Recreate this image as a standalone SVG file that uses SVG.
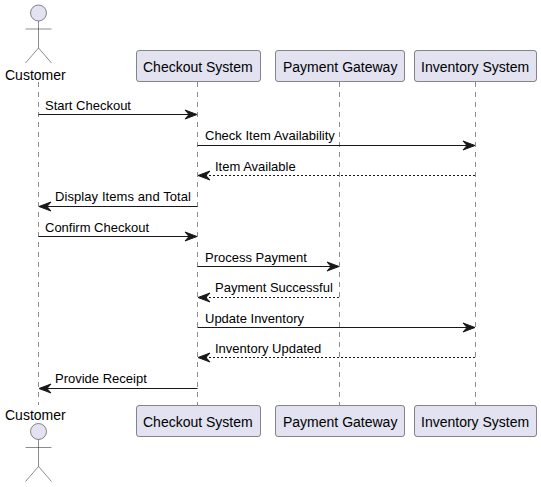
<svg xmlns="http://www.w3.org/2000/svg" width="541" height="487" viewBox="0 0 541 487">
<style>
text{font-family:"Liberation Sans",Arial,sans-serif;fill:#000}
.t{font-size:14px}
.m{font-size:13px}
.life{stroke:#181818;stroke-width:.5;stroke-dasharray:5 5;fill:none}
.box{fill:#E2E2F0;stroke:#181818;stroke-width:.5}
.act{stroke:#181818;stroke-width:.5;fill:none}
.head{fill:#E2E2F0;stroke:#181818;stroke-width:.5}
.msg{stroke:#181818;stroke-width:1;fill:none}
.dash{stroke-dasharray:2 2}
</style>
<defs>
<path id="ar" d="M0 0L-12 -4.5L-8 0L-12 4.5Z" fill="#181818" stroke="#181818" stroke-width="1"/>
<path id="al" d="M0 0L12 -4.5L8 0L12 4.5Z" fill="#181818" stroke="#181818" stroke-width="1"/>
</defs>
<g id="lifelines">
<line class="life" x1="38.5" y1="82" x2="38.5" y2="405"/>
<line class="life" x1="197.5" y1="82" x2="197.5" y2="405"/>
<line class="life" x1="339.5" y1="82" x2="339.5" y2="405"/>
<line class="life" x1="475.5" y1="82" x2="475.5" y2="405"/>
</g>
<g id="connectors">
<line class="msg" x1="38.5" y1="114.5" x2="190" y2="114.5"/><use href="#ar" x="197" y="114.5"/>
<line class="msg" x1="197.5" y1="145.5" x2="468" y2="145.5"/><use href="#ar" x="475" y="145.5"/>
<line class="msg dash" x1="205" y1="175.5" x2="475.5" y2="175.5"/><use href="#al" x="198" y="175.5"/>
<line class="msg" x1="46" y1="206.5" x2="197.5" y2="206.5"/><use href="#al" x="39" y="206.5"/>
<line class="msg" x1="38.5" y1="236.5" x2="190" y2="236.5"/><use href="#ar" x="197" y="236.5"/>
<line class="msg" x1="197.5" y1="266.5" x2="332" y2="266.5"/><use href="#ar" x="339" y="266.5"/>
<line class="msg dash" x1="205" y1="297.5" x2="339.5" y2="297.5"/><use href="#al" x="198" y="297.5"/>
<line class="msg" x1="197.5" y1="327.5" x2="468" y2="327.5"/><use href="#ar" x="475" y="327.5"/>
<line class="msg dash" x1="205" y1="357.5" x2="475.5" y2="357.5"/><use href="#al" x="198" y="357.5"/>
<line class="msg" x1="46" y1="388.5" x2="197.5" y2="388.5"/><use href="#al" x="39" y="388.5"/>
</g>
<g id="labels">
<text class="m" x="45" y="110">Start Checkout</text>
<text class="m" x="205" y="140">Check Item Availability</text>
<text class="m" x="215" y="171">Item Available</text>
<text class="m" x="55" y="201" textLength="136">Display Items and Total</text>
<text class="m" x="45" y="232">Confirm Checkout</text>
<text class="m" x="205" y="262">Process Payment</text>
<text class="m" x="215" y="292">Payment Successful</text>
<text class="m" x="205" y="323">Update Inventory</text>
<text class="m" x="215" y="353">Inventory Updated</text>
<text class="m" x="55" y="383">Provide Receipt</text>
</g>
<g id="customer-top">
<circle class="head" cx="38.5" cy="13" r="8"/>
<path class="act" d="M38.5 21V48M25.5 29H51.5M38.5 48L25.5 63M38.5 48L51.5 63"/>
<text class="t" x="5" y="80">Customer</text>
</g>
<g id="customer-bottom">
<text class="t" x="5" y="420">Customer</text>
<circle class="head" cx="38.5" cy="431.5" r="8"/>
<path class="act" d="M38.5 439.5V466.5M25.5 447.5H51.5M38.5 466.5L25.5 481.5M38.5 466.5L51.5 481.5"/>
</g>
<g id="checkout-top"><rect class="box" x="136.5" y="50.5" width="124" height="31" rx="2.5"/><text class="t" x="143" y="72">Checkout System</text></g>
<g id="payment-top"><rect class="box" x="275.5" y="50.5" width="129" height="31" rx="2.5"/><text class="t" x="283" y="72">Payment Gateway</text></g>
<g id="inventory-top"><rect class="box" x="414.5" y="50.5" width="122" height="31" rx="2.5"/><text class="t" x="421" y="72">Inventory System</text></g>
<g id="checkout-bottom"><rect class="box" x="136.5" y="405.5" width="124" height="31" rx="2.5"/><text class="t" x="143" y="427">Checkout System</text></g>
<g id="payment-bottom"><rect class="box" x="275.5" y="405.5" width="129" height="31" rx="2.5"/><text class="t" x="283" y="427">Payment Gateway</text></g>
<g id="inventory-bottom"><rect class="box" x="414.5" y="405.5" width="122" height="31" rx="2.5"/><text class="t" x="421" y="427">Inventory System</text></g>
</svg>
